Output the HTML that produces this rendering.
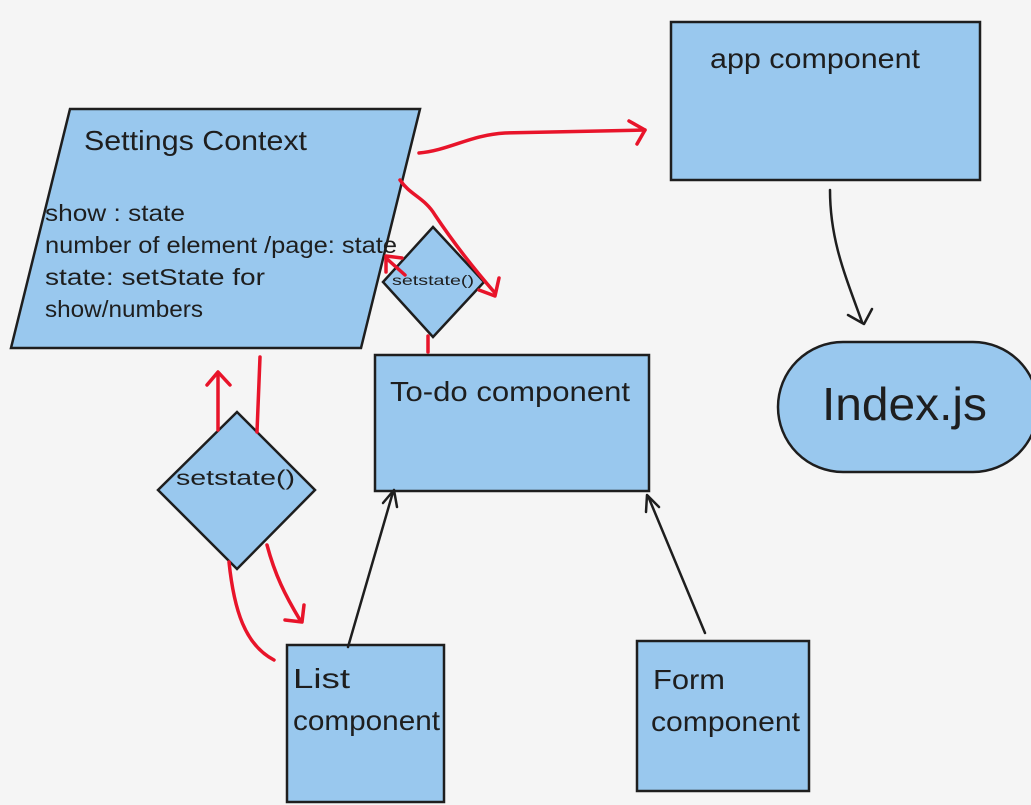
<!DOCTYPE html>
<html><head><meta charset="utf-8"><style>
html,body{margin:0;padding:0;background:#f5f5f5}
svg{display:block}
text{font-family:"Comic Sans MS","Liberation Sans","DejaVu Sans",sans-serif;fill:#1e1e1e}
</style></head><body>
<svg width="1031" height="805" viewBox="0 0 1031 805" xmlns="http://www.w3.org/2000/svg">
<rect width="1031" height="805" fill="#f5f5f5"/>
<g fill="#99c8ee" stroke="#1e1e1e" stroke-width="2.5">
<polygon points="70,109 420,109 361,348 11,348"/>
<rect x="671" y="22" width="309" height="158"/>
<rect x="778" y="342" width="260" height="130" rx="65"/>
<rect x="375" y="355" width="274" height="136"/>
<rect x="287" y="645" width="157" height="157"/>
<rect x="637" y="641" width="172" height="150"/>
<polygon points="433,227 484,282 433,337 383,282"/>
<polygon points="237,412 315,490 237,569 158,490"/>
</g>
<g fill="none" stroke="#e8142a" stroke-width="3.5" stroke-linecap="round" stroke-linejoin="round">
<path d="M419,153 C450,150 470,135 505,133 C560,132 600,131 645,130"/>
<path d="M629,121 L645,130 L637,144"/>
<path d="M400,180 C410,195 425,198 435,215 C455,245 475,270 495,293"/>
<path d="M499,278 L495,296 L479,290"/>
<path d="M428,352 L428,336"/>
<path d="M405,275 L386,258"/>
<path d="M386,272 L386,256 L402,258"/>
<path d="M218,430 L218,375"/>
<path d="M207,385 L218,372 L230,385"/>
<path d="M260,357 L257,432"/>
<path d="M267,545 C275,575 285,595 300,620"/>
<path d="M304,605 L302,622 L285,620"/>
<path d="M229,562 C234,610 245,645 274,660"/>
</g>
<g fill="none" stroke="#1e1e1e" stroke-width="2.5" stroke-linecap="round" stroke-linejoin="round">
<path d="M348,647 L393,492"/>
<path d="M383,503 L394,490 L397,507"/>
<path d="M705,633 L648,496"/>
<path d="M646,512 L647,495 L659,507"/>
<path d="M830,190 C830,240 845,275 862,322"/>
<path d="M848,315 L864,324 L872,309"/>
</g>
<text x="84" y="150" font-size="28" textLength="223" lengthAdjust="spacingAndGlyphs">Settings Context</text>
<text x="45" y="221" font-size="23" textLength="140" lengthAdjust="spacingAndGlyphs">show : state</text>
<text x="45" y="253" font-size="23" textLength="352" lengthAdjust="spacingAndGlyphs">number of element /page: state</text>
<text x="45" y="285" font-size="23" textLength="220" lengthAdjust="spacingAndGlyphs">state: setState for</text>
<text x="45" y="317" font-size="23" textLength="158" lengthAdjust="spacingAndGlyphs">show/numbers</text>
<text x="710" y="68" font-size="28" textLength="210" lengthAdjust="spacingAndGlyphs">app component</text>
<text x="822" y="420" font-size="46" textLength="165" lengthAdjust="spacingAndGlyphs">Index.js</text>
<text x="390" y="401" font-size="28" textLength="240" lengthAdjust="spacingAndGlyphs">To-do component</text>
<text x="293" y="688" font-size="28" textLength="57" lengthAdjust="spacingAndGlyphs">List</text>
<text x="293" y="730" font-size="28" textLength="147" lengthAdjust="spacingAndGlyphs">component</text>
<text x="653" y="689" font-size="28" textLength="72" lengthAdjust="spacingAndGlyphs">Form</text>
<text x="651" y="731" font-size="28" textLength="149" lengthAdjust="spacingAndGlyphs">component</text>
<text x="392" y="285" font-size="14" textLength="82" lengthAdjust="spacingAndGlyphs">setstate()</text>
<text x="176" y="485" font-size="21" textLength="119" lengthAdjust="spacingAndGlyphs">setstate()</text>
</svg>
</body></html>
